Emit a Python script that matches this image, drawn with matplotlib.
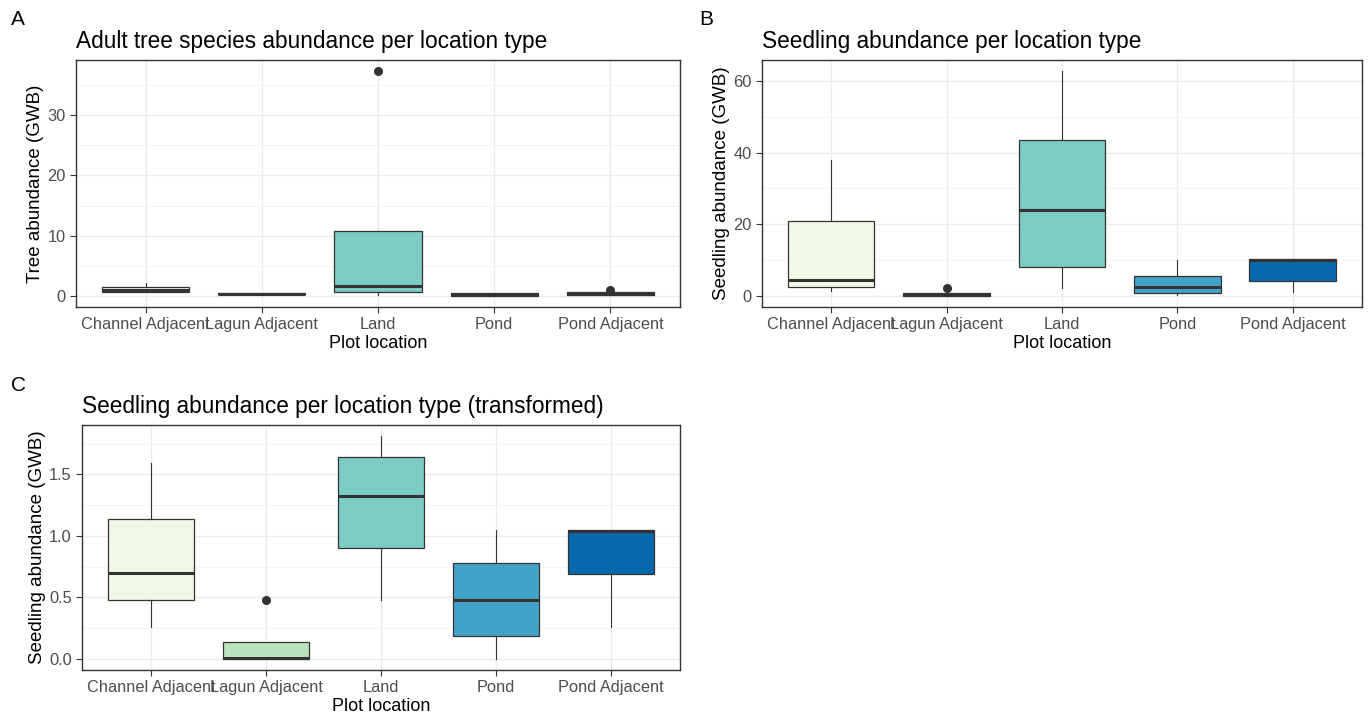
import matplotlib.pyplot as plt
from matplotlib.ticker import MultipleLocator

plt.rcParams['font.family'] = ['Liberation Sans', 'DejaVu Sans']

locations = ["Channel Adjacent", "Lagun Adjacent", "Land", "Pond", "Pond Adjacent"]
colors = ["#F0F9E8", "#BAE4BC", "#7BCCC4", "#43A2CA", "#0868AC"]

# panel A: adult trees (box stats)
a_whislo = [0.7, 0.3, 0.2, 0.0, 0.1]
a_q1 = [0.7, 0.3, 0.6, 0.0, 0.1]
a_med = [0.9, 0.3, 1.6, 0.2, 0.3]
a_q3 = [1.5, 0.4, 10.8, 0.4, 0.6]
a_whishi = [2.1, 0.4, 10.8, 0.4, 0.6]
a_fliers = [[], [], [37.3], [], [1.0]]

# panel B: seedlings
b_whislo = [1.4, 0.0, 2.3, 0.2, 1.2]
b_q1 = [2.5, 0.0, 8.1, 0.7, 4.2]
b_med = [4.4, 0.3, 24.0, 2.6, 10.0]
b_q3 = [20.8, 0.8, 43.5, 5.6, 10.2]
b_whishi = [37.8, 0.8, 62.7, 10.1, 10.2]
b_fliers = [[], [2.1], [], [], []]

# panel C: seedlings, transformed
c_whislo = [0.26, 0.0, 0.48, 0.0, 0.26]
c_q1 = [0.48, 0.0, 0.90, 0.19, 0.69]
c_med = [0.70, 0.01, 1.32, 0.48, 1.04]
c_q3 = [1.137, 0.14, 1.64, 0.78, 1.05]
c_whishi = [1.59, 0.14, 1.81, 1.05, 1.05]
c_fliers = [[], [0.48], [], [], []]


def draw_panel(ax, whislo, q1, med, q3, whishi, fliers, title, ylabel, major, minor):
    stats = []
    for i in range(len(locations)):
        stats.append(dict(whislo=whislo[i], q1=q1[i], med=med[i], q3=q3[i],
                          whishi=whishi[i], fliers=fliers[i]))
    bp = ax.bxp(stats, positions=range(1, 6), widths=0.75, patch_artist=True,
                showcaps=False,
                boxprops=dict(edgecolor="#333333", linewidth=0.9),
                medianprops=dict(color="#333333", linewidth=2.2),
                whiskerprops=dict(color="#333333", linewidth=0.8),
                flierprops=dict(marker="o", markersize=5.5, markerfacecolor="#333333",
                                markeredgecolor="#333333"))
    for patch, c in zip(bp["boxes"], colors):
        patch.set_facecolor(c)
    ax.set_xlim(0.4, 5.6)
    ax.set_xticks(range(1, 6))
    ax.set_xticklabels(locations)
    ax.yaxis.set_major_locator(MultipleLocator(major))
    ax.yaxis.set_minor_locator(MultipleLocator(minor))
    ax.grid(which="major", color="#EBEBEB", linewidth=1.0)
    ax.grid(which="minor", axis="y", color="#F2F2F2", linewidth=0.6)
    ax.set_axisbelow(True)
    for s in ax.spines.values():
        s.set_color("#333333")
        s.set_linewidth(1.0)
    ax.tick_params(which="major", colors="#333333", labelcolor="#4D4D4D",
                   labelsize=11.8, length=4)
    ax.tick_params(which="minor", length=0)
    ax.set_title(title, loc="left", fontsize=16.3, pad=9)
    ax.set_xlabel("Plot location", fontsize=13, labelpad=2)
    ax.set_ylabel(ylabel, fontsize=13.5, labelpad=2)


fig = plt.figure(figsize=(13.68, 7.18), dpi=100)

ax_a = fig.add_axes([0.0556, 0.5724, 0.4415, 0.344])
draw_panel(ax_a, a_whislo, a_q1, a_med, a_q3, a_whishi, a_fliers,
           "Adult tree species abundance per location type", "Tree abundance (GWB)", 10, 5)
ax_a.set_ylim(-1.87, 39.2)

ax_b = fig.add_axes([0.557, 0.5724, 0.4386, 0.344])
draw_panel(ax_b, b_whislo, b_q1, b_med, b_q3, b_whishi, b_fliers,
           "Seedling abundance per location type", "Seedling abundance (GWB)", 20, 10)
ax_b.set_ylim(-3.1, 65.8)

ax_c = fig.add_axes([0.06, 0.0669, 0.437, 0.341])
draw_panel(ax_c, c_whislo, c_q1, c_med, c_q3, c_whishi, c_fliers,
           "Seedling abundance per location type (transformed)", "Seedling abundance (GWB)",
           0.5, 0.25)
ax_c.set_ylim(-0.09, 1.90)
ax_c.yaxis.set_major_formatter(plt.FormatStrFormatter("%.1f"))

fig.text(0.008, 0.965, "A", fontsize=15)
fig.text(0.511, 0.965, "B", fontsize=15)
fig.text(0.008, 0.455, "C", fontsize=15)

fig.savefig("out.png", dpi=100)
